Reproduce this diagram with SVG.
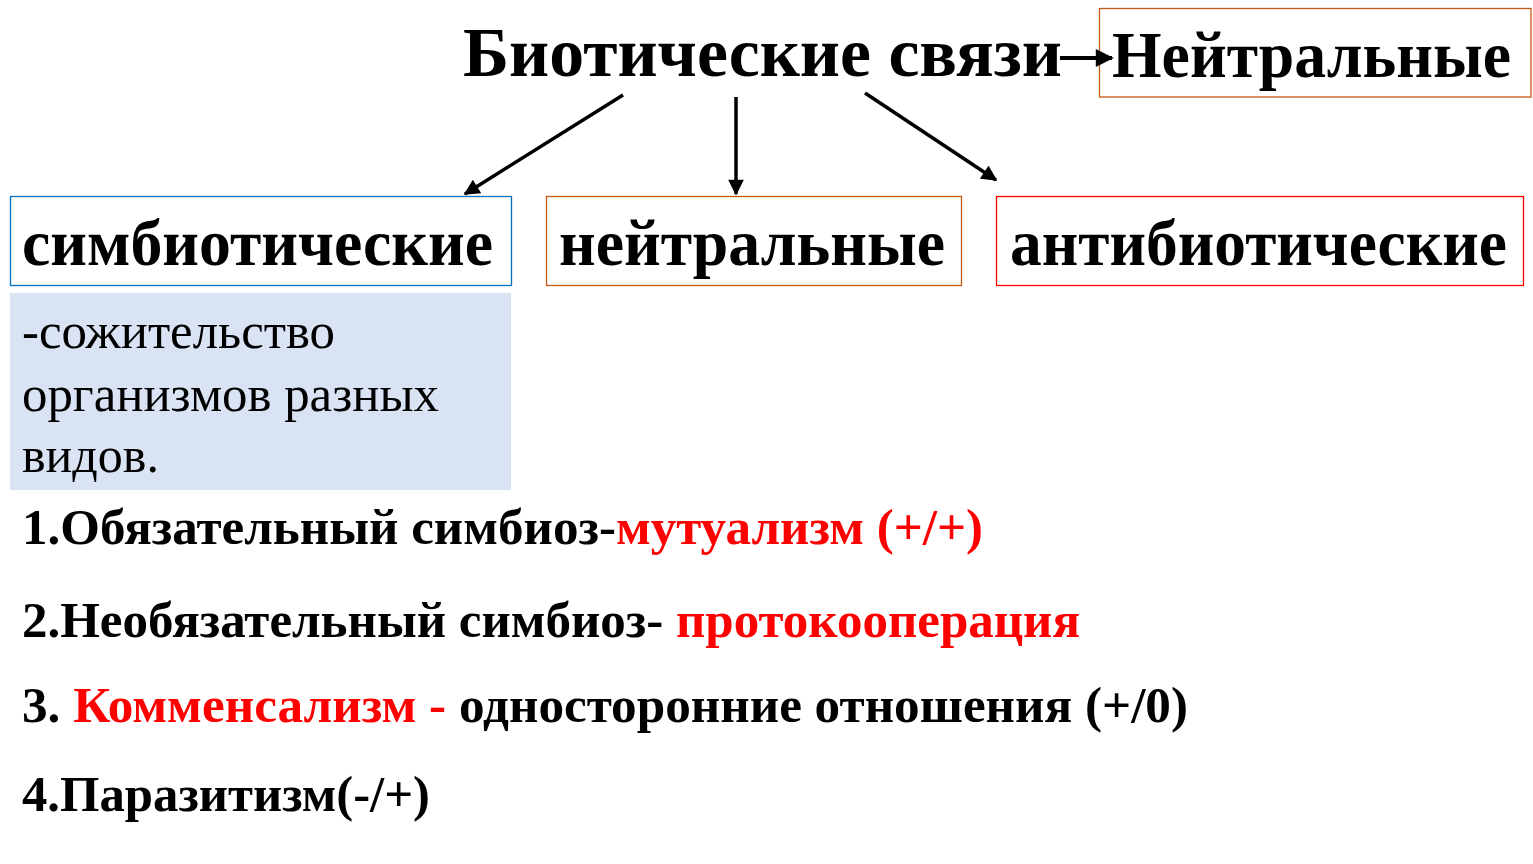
<svg xmlns="http://www.w3.org/2000/svg" width="1533" height="864" viewBox="0 0 1533 864">
<style>
.b{font-family:"Liberation Serif","Times New Roman",serif;font-weight:bold;fill:#000}
.r{font-family:"Liberation Serif","Times New Roman",serif;font-weight:normal;fill:#000}
.red{fill:#FF0000}
.box{fill:#fff;stroke-width:1.3}
.arr{stroke:#000;stroke-width:3.5;fill:none;marker-end:url(#ah)}
</style>
<defs>
<marker id="ah" viewBox="0 0 10 10" refX="9" refY="5" markerWidth="5" markerHeight="4.5" orient="auto" markerUnits="strokeWidth">
<path d="M0,0 L10,5 L0,10 z" fill="#000"/>
</marker>
</defs>
<rect width="1533" height="864" fill="#fff"/>
<g id="title">
<text class="b" x="463" y="76" font-size="70" textLength="599" lengthAdjust="spacingAndGlyphs">Биотические связи</text>
</g>
<g id="node-neutral-top">
<rect class="box" x="1099.5" y="8.5" width="431.5" height="88.5" stroke="#C55A11"/>
<text class="b" x="1112" y="77" font-size="66" textLength="399" lengthAdjust="spacingAndGlyphs">Нейтральные</text>
</g>
<g id="node-symbiotic">
<rect class="box" x="10.5" y="196.5" width="501" height="89" stroke="#0070C0"/>
<text class="b" x="22" y="265" font-size="66" textLength="471" lengthAdjust="spacingAndGlyphs">симбиотические</text>
</g>
<g id="node-neutral">
<rect class="box" x="546.5" y="196.5" width="415" height="89" stroke="#C55A11"/>
<text class="b" x="559" y="265" font-size="66" textLength="386" lengthAdjust="spacingAndGlyphs">нейтральные</text>
</g>
<g id="node-antibiotic">
<rect class="box" x="996.5" y="196.5" width="527" height="89" stroke="#FF0000"/>
<text class="b" x="1010" y="265" font-size="66" textLength="497" lengthAdjust="spacingAndGlyphs">антибиотические</text>
</g>
<g id="node-definition">
<rect x="10" y="293" width="501" height="197" fill="#DAE3F3"/>
<text class="r" x="22" y="348" font-size="50" textLength="313" lengthAdjust="spacingAndGlyphs">-сожительство</text>
<text class="r" x="22" y="411" font-size="50" textLength="417" lengthAdjust="spacingAndGlyphs">организмов разных</text>
<text class="r" x="22" y="472" font-size="50">видов.</text>
</g>
<g id="connectors">
<line class="arr" x1="623" y1="95" x2="465" y2="194"/>
<line class="arr" x1="736" y1="97" x2="736" y2="194"/>
<line class="arr" x1="865" y1="93" x2="996" y2="180"/>
<line class="arr" x1="1060" y1="58" x2="1112" y2="58" style="stroke-width:4"/>
</g>
<g id="list">
<text class="b" x="22" y="544" font-size="50" textLength="961" lengthAdjust="spacingAndGlyphs">1.Обязательный симбиоз-<tspan class="red">мутуализм (+/+)</tspan></text>
<text class="b" x="22" y="637" font-size="50" textLength="1058" lengthAdjust="spacingAndGlyphs">2.Необязательный симбиоз- <tspan class="red">протокооперация</tspan></text>
<text class="b" x="22" y="722" font-size="50" textLength="1166" lengthAdjust="spacingAndGlyphs">3. <tspan class="red">Комменсализм -</tspan> односторонние отношения (+/0)</text>
<text class="b" x="22" y="811" font-size="50" textLength="408" lengthAdjust="spacingAndGlyphs">4.Паразитизм(-/+)</text>
</g>
</svg>
